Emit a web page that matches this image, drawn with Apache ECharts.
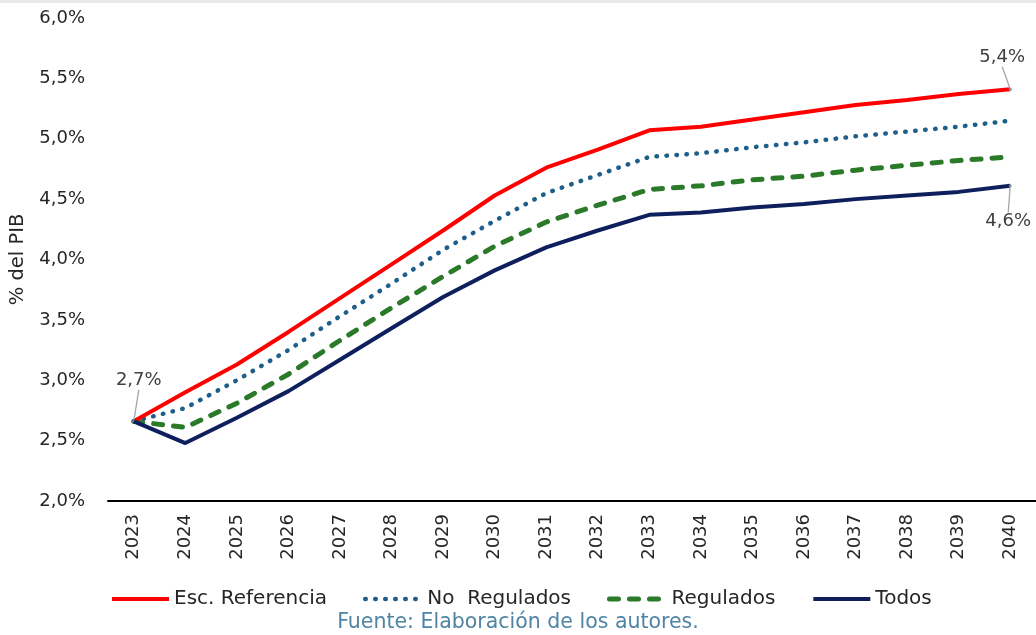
<!DOCTYPE html>
<html>
<head>
<meta charset="utf-8">
<script src="https://cdn.jsdelivr.net/npm/echarts@6/dist/echarts.min.js"></script>
<style>
  html, body { margin: 0; padding: 0; background: #ffffff; }
  #chart { width: 1036px; height: 635px; }
</style>
</head>
<body>
<div id="chart"></div>
<script>
// Gasto proyectado como porcentaje del PIB, 2023-2040
const years = ['2023','2024','2025','2026','2027','2028','2029','2030','2031',
               '2032','2033','2034','2035','2036','2037','2038','2039','2040'];
const escReferencia = [2.66, 2.90, 3.13, 3.40, 3.68, 3.96, 4.24, 4.53, 4.76,
                       4.91, 5.07, 5.10, 5.16, 5.22, 5.28, 5.32, 5.37, 5.41];
const noRegulados   = [2.66, 2.77, 3.00, 3.25, 3.53, 3.80, 4.08, 4.32, 4.55,
                       4.70, 4.85, 4.88, 4.93, 4.97, 5.02, 5.06, 5.10, 5.15];
const regulados     = [2.66, 2.61, 2.81, 3.05, 3.33, 3.60, 3.86, 4.11, 4.31,
                       4.45, 4.58, 4.61, 4.66, 4.69, 4.74, 4.78, 4.82, 4.85];
const todos         = [2.66, 2.48, 2.69, 2.91, 3.17, 3.43, 3.69, 3.91, 4.10,
                       4.24, 4.37, 4.39, 4.43, 4.46, 4.50, 4.53, 4.56, 4.61];
const yTicks = { min: 2, max: 6, step: 0.5 };

const fmtPct = v => v.toFixed(1).replace('.', ',') + '%';
const FONT = 'DejaVu Sans';

// Annotated points: [seriesIndex, dataIndex, position, dx, dy]
const callouts = [
  [0, 0, 'top', 5, -26],
  [0, 17, 'top', -8, -17],
  [3, 17, 'bottom', -2, 21]
];

function withLabels(values, seriesIdx) {
  return values.map((v, i) => {
    const c = callouts.find(k => k[0] === seriesIdx && k[1] === i);
    if (!c) return v;
    return {
      value: v,
      symbol: 'circle',
      symbolSize: 3,
      itemStyle: { color: '#8c8c8c' },
      label: { show: true, position: c[2], formatter: p => fmtPct(p.value) }
    };
  });
}

const chart = echarts.init(document.getElementById('chart'), null, { renderer: 'canvas' });

const labelStyle = {
  fontFamily: FONT, fontSize: 18, color: '#404040', distance: 4
};
const guide = { show: true, lineStyle: { color: '#a6a6a6', width: 1.3 } };
const layout = params => {
  const c = callouts.find(k => k[0] === params.seriesIndex && k[1] === params.dataIndex);
  return c ? { dx: c[3], dy: c[4] } : {};
};

chart.setOption({
  animation: false,
  backgroundColor: '#ffffff',
  graphic: [{
    type: 'rect', left: 0, top: 0,
    shape: { width: 1036, height: 3 },
    style: { fill: '#e9e9e9' }
  }, {
    type: 'text', left: 'center', top: 612,
    style: {
      text: 'Fuente: Elaboración de los autores.',
      fontFamily: FONT, fontSize: 20.5, fill: '#4f84a4'
    }
  }],
  grid: { left: 104, right: -4, top: 18, bottom: 134, containLabel: false },
  legend: {
    left: 105, top: 584,
    itemWidth: 57, itemHeight: 14, itemGap: 36,
    itemStyle: { opacity: 0 },
    lineStyle: { width: 'inherit' },
    textStyle: { fontFamily: FONT, fontSize: 20, color: '#262626', padding: [0, 0, 0, 0] },
    data: ['Esc. Referencia', 'No  Regulados', 'Regulados', 'Todos']
  },
  xAxis: {
    type: 'category',
    data: years,
    boundaryGap: true,
    axisLine: { show: true, lineStyle: { color: '#000000', width: 2 } },
    axisTick: { show: false },
    axisLabel: {
      rotate: 90, margin: 13, fontFamily: FONT, fontSize: 18, color: '#262626'
    }
  },
  yAxis: {
    type: 'value',
    min: yTicks.min, max: yTicks.max, interval: yTicks.step,
    name: '% del PIB',
    nameLocation: 'middle',
    nameGap: 80,
    nameTextStyle: { fontFamily: FONT, fontSize: 19.5, color: '#262626' },
    axisLine: { show: false },
    axisTick: { show: false },
    splitLine: { show: false },
    axisLabel: {
      formatter: v => fmtPct(v), margin: 23,
      fontFamily: FONT, fontSize: 18, color: '#262626'
    }
  },
  series: [
    {
      name: 'Esc. Referencia', type: 'line', symbol: 'none',
      data: withLabels(escReferencia, 0),
      lineStyle: { color: '#ff0000', width: 4 },
      itemStyle: { color: '#ff0000' },
      label: labelStyle, labelLine: guide, labelLayout: layout, z: 4
    },
    {
      name: 'No  Regulados', type: 'line', symbol: 'none',
      data: noRegulados,
      lineStyle: { color: '#1d5f8a', width: 4.5, type: [0.5, 9.5], cap: 'round' },
      itemStyle: { color: '#1d5f8a' }, z: 3
    },
    {
      name: 'Regulados', type: 'line', symbol: 'none',
      data: regulados,
      lineStyle: { color: '#2a7a2a', width: 5, type: [9, 11], cap: 'round' },
      itemStyle: { color: '#2a7a2a' }, z: 2
    },
    {
      name: 'Todos', type: 'line', symbol: 'none',
      data: withLabels(todos, 3),
      lineStyle: { color: '#0d1f5c', width: 4 },
      itemStyle: { color: '#0d1f5c' },
      label: labelStyle, labelLine: guide, labelLayout: layout, z: 5
    }
  ]
});
</script>
</body>
</html>
